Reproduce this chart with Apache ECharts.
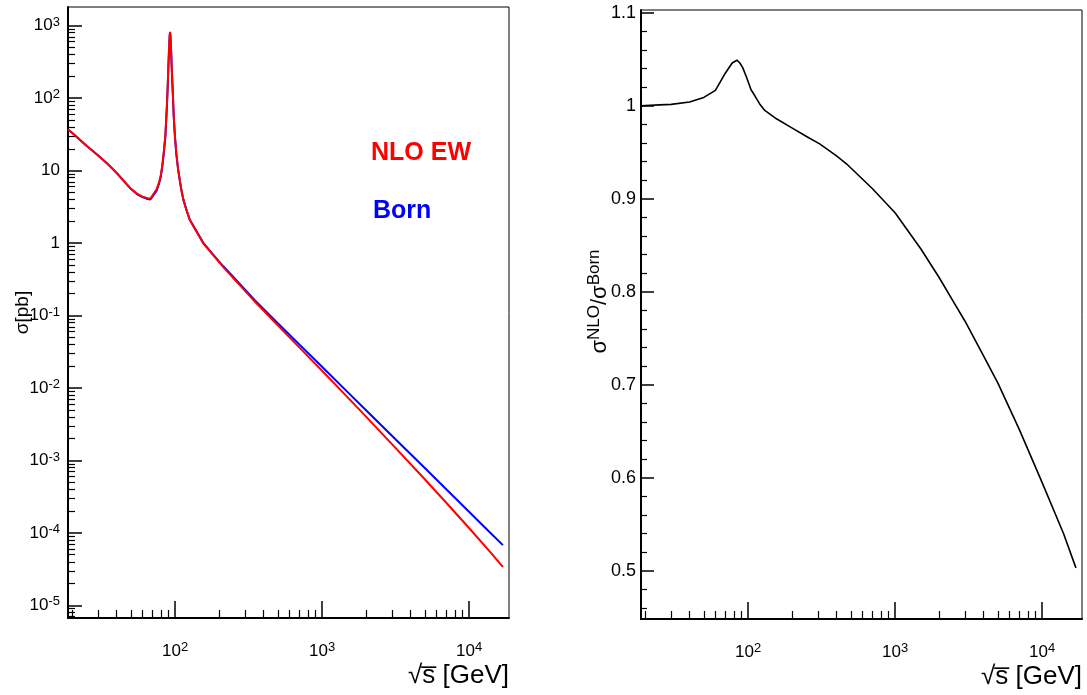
<!DOCTYPE html>
<html>
<head>
<meta charset="utf-8">
<script src="https://cdn.jsdelivr.net/npm/echarts@6/dist/echarts.min.js"></script>
<style>
html,body{margin:0;padding:0;background:#fff;}
#c{width:1087px;height:695px;}
</style>
</head>
<body>
<div id="c"></div>
<script>
// ---- data ----
const energies = [18.7,20,25,30,35,40,45,50,55,60,65,68,70,75,78,80,82,84,86,88,89,90,91,92,92.5,93,94,95,96.5,98,100,102,105,110,114,120,126,140,156,180,213,250,292,350,500,700,1000,1500,2000,3000,5000,7000,10000,14000,17000];
const bornXsec = [37,33,22,16.2,12.2,9.3,7.1,5.6,4.75,4.3,4.05,4.0,4.2,5.3,6.7,8.2,11.5,18,30,75,130,250,460,730,790,720,450,250,120,55,28,17,10.2,5.6,3.95,2.8,2.09,1.45,1.0,0.71,0.478,0.337,0.24,0.162,0.0785,0.040,0.0196,0.0087,0.0049,0.00218,0.000785,0.0004,0.000196,0.0001,0.0000678];
const nloXsec = [37,33,22.0,16.2,12.25,9.34,7.14,5.65,4.81,4.38,4.16,4.12,4.35,5.52,7.0,8.6,12.1,18.9,31.4,78.5,136,261,479,759,821,747,467,259,124,56.6,28.7,17.4,10.4,5.66,3.98,2.81,2.09,1.44,0.986,0.696,0.466,0.326,0.231,0.155,0.0733,0.0364,0.0173,0.00736,0.0040,0.00167,0.000551,0.000261,0.000117,0.000054,0.0000341];
const ratioEnergies = [18.7,25,30,40,50,60,70,78,84,88,92,97.5,105,111,120,130,156,200,250,307,400,467,700,1000,1500,2000,2500,3000,4000,5000,7000,10000,14000,17000];
const ratioValues = [1.000,1.001,1.0015,1.004,1.009,1.0165,1.035,1.046,1.049,1.046,1.041,1.031,1.017,1.011,1.002,0.995,0.986,0.976,0.967,0.959,0.946,0.9376,0.911,0.885,0.846,0.815,0.789,0.768,0.731,0.702,0.652,0.595,0.540,0.503];

const xMajorTicks = [100,1000,10000];
const xMinorTicks = [20,30,40,50,60,70,80,90,200,300,400,500,600,700,800,900,2000,3000,4000,5000,6000,7000,8000,9000];
const yLogMajorTicks = [1e-5,1e-4,1e-3,1e-2,1e-1,1,10,100,1000];
const yLogMinorTicks = [];
[1e-6,1e-5,1e-4,1e-3,1e-2,1e-1,1,10,100].forEach(d => { for (let k = 2; k <= 9; k++) yLogMinorTicks.push(+(d*k).toPrecision(3)); });
const yRatioMajorTicks = [0.5,0.6,0.7,0.8,0.9,1.0,1.1];
const yRatioMinorTicks = [0.46,0.48,0.52,0.54,0.56,0.58,0.62,0.64,0.66,0.68,0.72,0.74,0.76,0.78,0.82,0.84,0.86,0.88,0.92,0.94,0.96,0.98,1.02,1.04,1.06,1.08];

const FONT = 'Liberation Sans';
const X_MIN = 18.7, X_MAX = 18700;

function powLabel(v) {
  const e = Math.round(Math.log10(v));
  if (e === 0) return '1';
  if (e === 1) return '10';
  return '10{sup|' + e + '}';
}
const supRich = { sup: { fontSize: 13, fontFamily: FONT, color: '#000', padding: [0, 0, 7, 0] } };

function majorX(gridIndex, name) {
  return {
    type: 'log', logBase: 10, gridIndex, min: X_MIN, max: X_MAX, position: 'bottom',
    axisLine: { show: true, onZero: false, lineStyle: { color: '#000', width: 2 } },
    axisTick: { show: true, inside: true, length: 17, lineStyle: { color: '#000', width: 1.5 }, customValues: xMajorTicks },
    axisLabel: { show: true, customValues: xMajorTicks, formatter: powLabel, fontFamily: FONT, fontSize: 17, color: '#000', margin: 23, rich: supRich },
    splitLine: { show: false },
    name: name, nameLocation: 'end', nameGap: 0,
    nameTextStyle: { fontFamily: FONT, fontSize: 26, color: '#000', align: 'right', verticalAlign: 'top', padding: [45, 0, 0, 0] }
  };
}
function minorX(gridIndex) {
  return {
    type: 'log', logBase: 10, gridIndex, min: X_MIN, max: X_MAX, position: 'bottom',
    axisLine: { show: false },
    axisTick: { show: true, inside: true, length: 8, lineStyle: { color: '#000', width: 1.2 }, customValues: xMinorTicks },
    axisLabel: { show: false }, splitLine: { show: false }
  };
}

const option = {
  animation: false,
  backgroundColor: '#fff',
  grid: [
    { left: 68, top: 7, width: 441, height: 611, show: true, borderColor: '#000', borderWidth: 1, backgroundColor: 'transparent' },
    { left: 641, top: 10, width: 441, height: 609, show: true, borderColor: '#000', borderWidth: 1, backgroundColor: 'transparent' }
  ],
  xAxis: [majorX(0, '√s̅ [GeV]'), minorX(0), majorX(1, '√s̅ [GeV]'), minorX(1)],
  yAxis: [
    {
      type: 'log', logBase: 10, gridIndex: 0, min: 6.7e-6, max: 1810, position: 'left',
      axisLine: { show: true, onZero: false, lineStyle: { color: '#000', width: 2 } },
      axisTick: { show: true, inside: true, length: 14, lineStyle: { color: '#000', width: 1.5 }, customValues: yLogMajorTicks },
      axisLabel: { show: true, customValues: yLogMajorTicks, formatter: powLabel, fontFamily: FONT, fontSize: 17, color: '#000', margin: 8, rich: supRich },
      splitLine: { show: false },
      name: 'σ[pb]', nameLocation: 'middle', nameGap: 36, nameMoveOverlap: false,
      nameTextStyle: { fontFamily: FONT, fontSize: 19, color: '#000' }
    },
    {
      type: 'log', logBase: 10, gridIndex: 0, min: 6.7e-6, max: 1810, position: 'left',
      axisLine: { show: false },
      axisTick: { show: true, inside: true, length: 7, lineStyle: { color: '#000', width: 1.2 }, customValues: yLogMinorTicks },
      axisLabel: { show: false }, splitLine: { show: false }
    },
    {
      type: 'value', gridIndex: 1, min: 0.448, max: 1.103, position: 'left',
      axisLine: { show: true, onZero: false, lineStyle: { color: '#000', width: 2 } },
      axisTick: { show: true, inside: true, length: 13, lineStyle: { color: '#000', width: 1.5 }, customValues: yRatioMajorTicks },
      axisLabel: { show: true, customValues: yRatioMajorTicks, formatter: v => String(+v.toFixed(2)), fontFamily: FONT, fontSize: 18, color: '#000', margin: 5 },
      splitLine: { show: false },
      name: '{b|σ}{s|NLO}{b|/σ}{s|Born}', nameLocation: 'middle', nameGap: 28, nameMoveOverlap: false,
      nameTextStyle: {
        fontFamily: FONT, fontSize: 22, color: '#000', padding: [0, 0, 0, 26],
        rich: {
          b: { fontFamily: FONT, fontSize: 22, color: '#000' },
          s: { fontFamily: FONT, fontSize: 17, color: '#000', padding: [0, 0, 10, 0] }
        }
      }
    },
    {
      type: 'value', gridIndex: 1, min: 0.448, max: 1.103, position: 'left',
      axisLine: { show: false },
      axisTick: { show: true, inside: true, length: 6, lineStyle: { color: '#000', width: 1.2 }, customValues: yRatioMinorTicks },
      axisLabel: { show: false }, splitLine: { show: false }
    }
  ],
  graphic: [
    { type: 'text', left: 371, top: 141, style: { text: 'NLO EW', fill: '#ff0000', font: 'bold 25px "Liberation Sans"' } },
    { type: 'text', left: 373, top: 199, style: { text: 'Born', fill: '#0000ff', font: 'bold 25px "Liberation Sans"' } }
  ],
  series: [
    {
      name: 'Born', type: 'line', xAxisIndex: 0, yAxisIndex: 0, showSymbol: false, symbol: 'none',
      lineStyle: { color: '#0000ff', width: 2 }, z: 2,
      data: energies.map((e, i) => [e, bornXsec[i]])
    },
    {
      name: 'NLO EW', type: 'line', xAxisIndex: 0, yAxisIndex: 0, showSymbol: false, symbol: 'none',
      lineStyle: { color: '#ff0000', width: 2 }, z: 3,
      data: energies.map((e, i) => [e, nloXsec[i]])
    },
    {
      name: 'ratio', type: 'line', xAxisIndex: 2, yAxisIndex: 2, showSymbol: false, symbol: 'none',
      lineStyle: { color: '#000', width: 1.6 }, z: 2,
      data: ratioEnergies.map((e, i) => [e, ratioValues[i]])
    }
  ]
};
const chart = echarts.init(document.getElementById('c'), null, { renderer: 'canvas' });
chart.setOption(option);
</script>
</body>
</html>
